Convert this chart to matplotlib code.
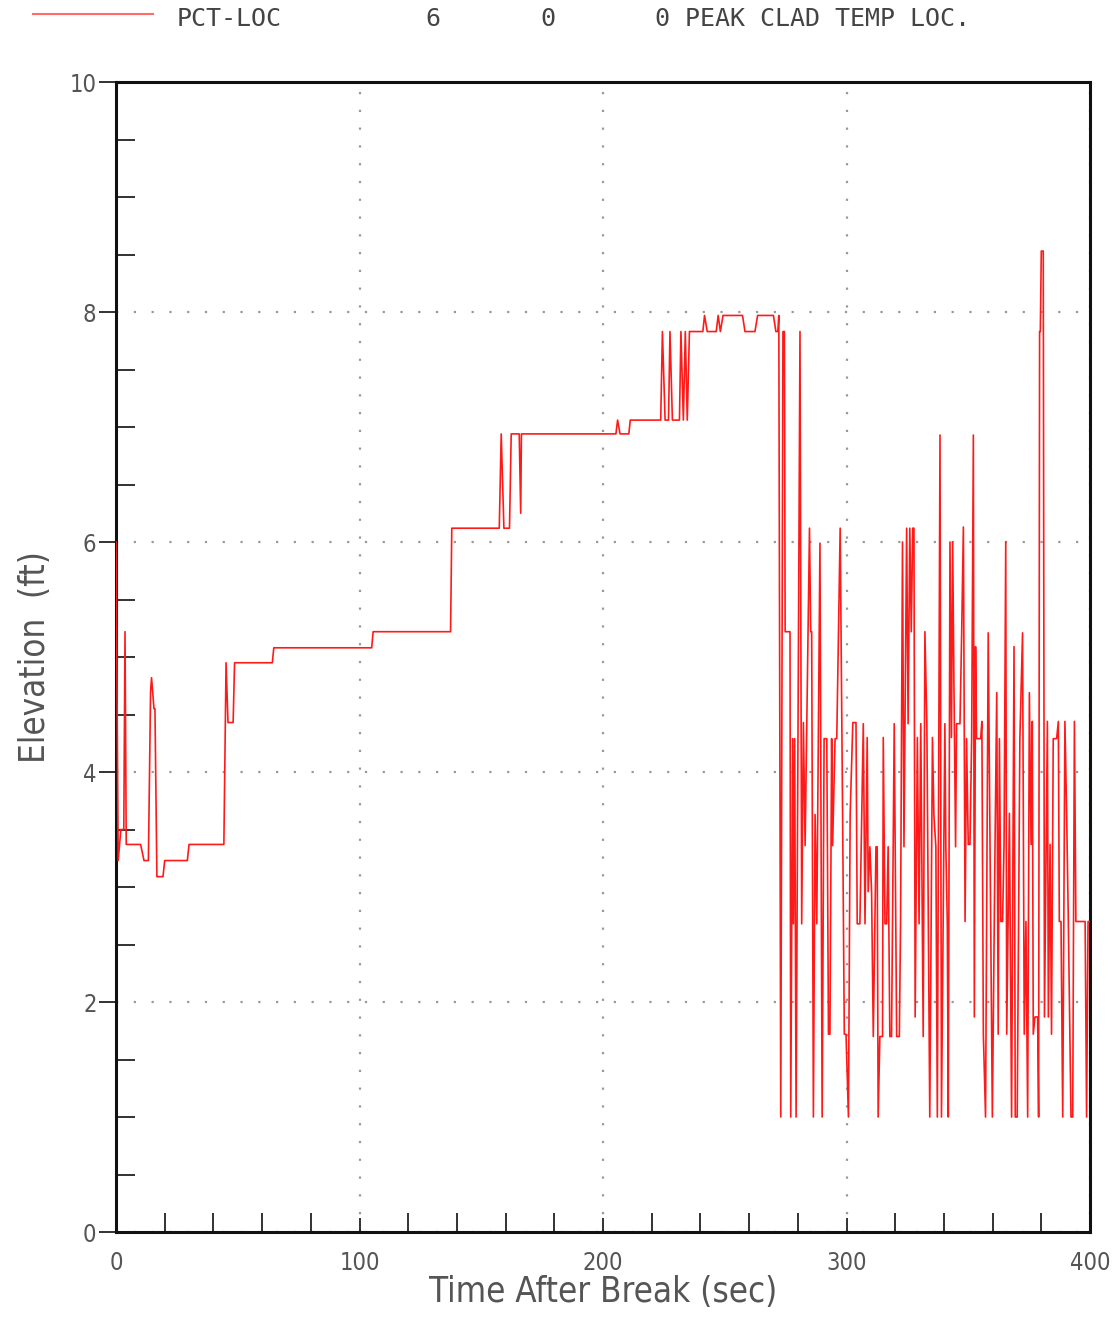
import matplotlib
matplotlib.use("Agg")
import matplotlib.pyplot as plt
from matplotlib.lines import Line2D
from matplotlib.ticker import MultipleLocator

# ---- data: (time, elevation) points of PCT-LOC trace ----
time_s = [
    0, 0.9, 2.0, 3.2, 3.7, 4.2, 10.1, 11.5, 13.3, 14.2, 14.6, 15.6, 16.0, 16.8, 19.3, 20.0,
    29.3, 30.0, 44.3, 45.2, 46.0, 48.1, 48.7, 64.2, 64.8, 105.0, 105.6, 137.4, 137.9,
    157.4, 158.2, 159.3, 161.6, 162.3, 165.6, 166.2, 166.5, 205.3, 206.0, 207.0, 210.6, 211.2,
    223.7, 224.4, 225.5, 226.9, 227.5, 228.5, 231.4, 232.0, 233.0, 233.8, 234.6, 235.5,
    241.0, 241.7, 242.8, 246.5, 247.3, 248.2, 249.3, 257.3, 258.3, 262.4, 263.5, 270.0,
    271.0, 271.8, 272.2, 273.0,
    273.9, 274.5, 274.8, 276.8, 277.1, 277.9, 278.2, 278.7, 279.3, 280.9, 281.6, 282.3, 283.0,
    284.8, 285.3, 285.7, 286.4, 287.1, 287.8, 289.1, 290.0, 290.8, 291.9, 292.6, 293.2, 293.9,
    294.3, 295.3, 296.0, 297.4, 298.4, 299.1, 299.8, 300.8, 301.5, 302.6, 303.9, 304.4, 305.5,
    306.9, 307.6, 308.5, 308.9, 309.6, 310.3, 311.0, 312.1, 312.6, 313.0, 313.7, 314.8, 315.1,
    315.8, 316.5, 317.1, 317.8, 318.5, 318.9, 319.6, 320.6, 321.7, 322.2, 323.0, 323.6, 324.7,
    325.3, 326.0, 326.6, 327.2, 327.7, 328.2, 329.1, 329.8, 330.5, 331.5, 332.2, 333.0, 334.2,
    335.3, 335.9, 336.7, 337.3, 338.4, 339.0, 340.4, 340.8, 341.4, 341.8, 342.5, 343.1, 343.6,
    344.1, 344.8, 345.2, 346.6,
    347.3, 348.0, 348.7, 349.3, 350.0, 350.7, 351.4, 352.1, 352.5, 353.0, 353.4, 355.1, 355.6,
    356.2, 357.1, 358.2, 359.9, 361.0, 361.7, 362.3, 362.8, 363.4, 364.1, 364.7, 365.4, 365.8,
    366.9, 367.8, 368.8, 369.3, 370.1, 371.2, 372.3, 373.0, 373.7, 374.4, 375.1, 375.8, 376.3,
    376.7, 377.4, 378.5, 378.9, 379.3, 379.6, 380.0, 380.8, 381.3, 382.5, 382.9, 383.6, 384.2,
    384.9, 386.3, 387.0, 387.4, 388.1, 388.8, 389.7, 390.4, 391.1, 392.2, 392.9, 393.6, 394.2,
    395.2, 395.9, 397.2, 398.0, 398.6, 399.2, 400.0,
]
elevation_ft = [
    6.0, 3.23, 3.5, 3.5, 5.22, 3.37, 3.37, 3.23, 3.23, 4.7, 4.82, 4.55, 4.55, 3.09, 3.09, 3.23,
    3.23, 3.37, 3.37, 4.95, 4.43, 4.43, 4.95, 4.95, 5.08, 5.08, 5.22, 5.22, 6.12,
    6.12, 6.94, 6.12, 6.12, 6.94, 6.94, 6.25, 6.94, 6.94, 7.06, 6.94, 6.94, 7.06,
    7.06, 7.83, 7.06, 7.06, 7.83, 7.06, 7.06, 7.83, 7.06, 7.83, 7.06, 7.83,
    7.83, 7.97, 7.83, 7.83, 7.97, 7.83, 7.97, 7.97, 7.83, 7.83, 7.97, 7.97,
    7.83, 7.83, 7.97, 1.0,
    7.83, 7.83, 5.22, 5.22, 1.0, 4.29, 2.68, 4.29, 1.0, 7.83, 2.68, 4.43, 3.36,
    6.12, 5.22, 5.22, 1.0, 3.63, 2.68, 5.99, 1.0, 4.29, 4.29, 1.72, 1.72, 4.29,
    3.36, 4.29, 4.29, 6.12, 3.63, 1.72, 1.72, 1.0, 3.63, 4.43, 4.43, 2.68, 2.68,
    4.42, 2.68, 4.30, 2.96, 3.35, 2.96, 1.70, 3.35, 3.35, 1.0, 1.70, 1.70, 4.30,
    2.68, 2.68, 3.35, 1.70, 1.70, 2.68, 4.42, 1.70, 1.70, 2.68, 6.0, 3.35, 6.12,
    4.42, 6.12, 5.22, 6.12, 6.12, 1.87, 4.30, 2.68, 4.42, 1.70, 5.22, 4.42, 1.0,
    4.30, 3.62, 3.35, 1.0, 6.93, 1.0, 4.42, 3.35, 2.68, 1.0, 6.0, 4.30, 6.0,
    4.81, 3.35, 4.42, 4.42,
    5.21, 6.13, 2.70, 4.29, 3.37, 3.37, 4.29, 6.93, 1.87, 5.09, 4.29, 4.29, 4.44,
    1.72, 1.0, 5.21, 1.0, 3.37, 4.69, 1.72, 4.29, 2.70, 2.70, 3.37, 6.0, 1.72,
    3.64, 1.0, 5.09, 1.0, 1.0, 4.29, 5.21, 1.72, 2.70, 1.0, 4.69, 3.37, 4.44,
    1.72, 1.87, 1.87, 1.0, 7.83, 7.83, 8.53, 8.53, 1.87, 4.44, 1.87, 3.37, 1.72,
    4.29, 4.29, 4.44, 2.70, 2.70, 1.0, 4.44, 3.64, 2.70, 1.0, 1.0, 4.44, 2.70,
    2.70, 2.70, 2.70, 2.70, 1.0, 2.70, 2.70,
]

x_ticks = [0, 100, 200, 300, 400]
y_ticks = [0, 2, 4, 6, 8, 10]
legend_fields = ["PCT-LOC", "6", "0", "0 PEAK CLAD TEMP LOC."]

W, H = 1117, 1325
fig = plt.figure(figsize=(W / 100, H / 100), dpi=100)
ax = fig.add_axes([116 / W, 1 - 1232 / H, (1090 - 116) / W, (1232 - 82) / H])

ax.plot(time_s, elevation_ft, color="#ff1a1a", lw=1.2, zorder=3)

ax.set_xlim(0, 400)
ax.set_ylim(0, 10)
ax.set_xticks(x_ticks)
ax.set_yticks(y_ticks)
ax.xaxis.set_minor_locator(MultipleLocator(20))
ax.yaxis.set_minor_locator(MultipleLocator(0.5))

grey = "#555555"
for sp in ax.spines.values():
    sp.set_linewidth(2.2)
    sp.set_color("#111111")

ax.tick_params(axis="x", which="major", direction="in", length=10, width=1.3,
               colors="#222222", labelcolor=grey, labelsize=17, pad=14)
ax.tick_params(axis="x", which="minor", direction="in", length=14, width=1.3, colors="#222222")
ax.tick_params(axis="y", which="major", direction="out", length=12, width=1.3,
               colors="#222222", labelcolor=grey, labelsize=17, pad=2)
ax.tick_params(axis="y", which="minor", direction="in", length=14, width=1.3, colors="#222222")
for lab in ax.get_xticklabels() + ax.get_yticklabels():
    lab.set_family("DejaVu Sans")
    lab.set_stretch("condensed")

ax.grid(True, which="major", color="#999999", linestyle=(0, (1, 7)), linewidth=1.6)

ax.set_xlabel("Time After Break (sec)", family="DejaVu Sans", stretch="condensed",
              fontsize=25, color=grey, labelpad=0)
ax.set_ylabel("Elevation  (ft)", family="DejaVu Sans", stretch="condensed",
              fontsize=25, color=grey)
ax.yaxis.set_label_coords((52 - 116) / (1090 - 116), 0.5)

# legend row at top
fig.add_artist(Line2D([33 / W, 153 / W], [1 - 14 / H, 1 - 14 / H], color="#ff6b6b", lw=1.5))
legend_x = [177, 425, 540, 655]
for txt, xp in zip(legend_fields, legend_x):
    fig.text(xp / W, 1 - 19 / H, txt, family=["DejaVu Sans Mono"], fontsize=18, color="#444444",
             va="center", ha="left")

fig.savefig("out.png", dpi=100)
